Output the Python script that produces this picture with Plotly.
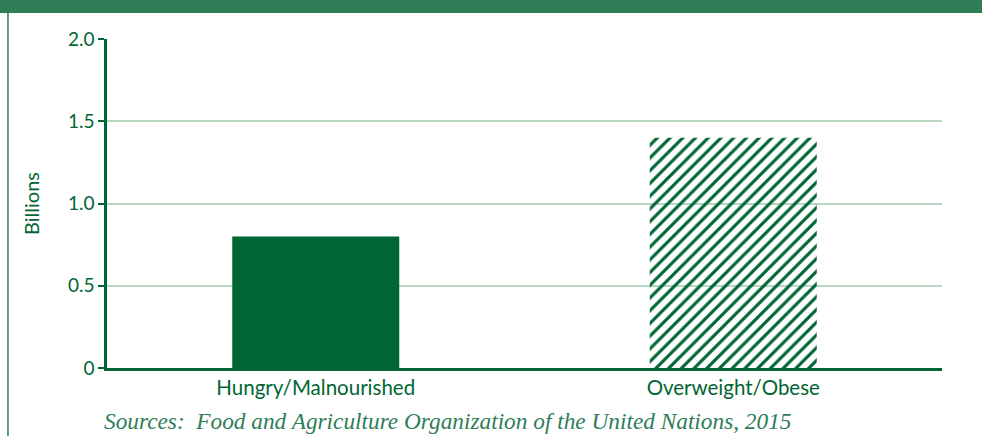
import plotly.graph_objects as go

categories = ["Hungry/Malnourished", "Overweight/Obese"]
values = [0.8, 1.4]
y_ticks = [0, 0.5, 1.0, 1.5, 2.0]
y_tick_labels = ["0", "0.5", "1.0", "1.5", "2.0"]
source_text = "Sources:  Food and Agriculture Organization of the United Nations, 2015"

DARK = "#006633"
MID = "#2e7d57"
GRID = "#b9d8c4"

fig = go.Figure()
fig.add_trace(go.Bar(
    x=categories, y=values, width=0.4,
    marker=dict(
        color=[DARK, DARK],
        line=dict(width=0),
        pattern=dict(shape=["", "/"], fgcolor=[DARK, DARK], bgcolor=["white", "white"],
                     fillmode="replace", size=9, solidity=0.35),
    ),
    showlegend=False,
))

fig.update_layout(
    width=982, height=436,
    margin=dict(l=107, r=40, t=39, b=68),
    paper_bgcolor="white", plot_bgcolor="white",
    font=dict(family="Lato, sans-serif", color=DARK),
    xaxis=dict(range=[-0.5, 1.5], showline=True, linecolor=DARK, linewidth=2.5,
               ticks="", tickfont=dict(size=20.5, color=DARK), showgrid=False),
    yaxis=dict(range=[0, 2.0], tickvals=y_ticks, ticktext=y_tick_labels,
               showline=True, linecolor=DARK, linewidth=2.5,
               ticks="outside", ticklen=6, tickwidth=2, tickcolor=DARK,
               tickfont=dict(size=19, color=DARK),
               showgrid=True, gridcolor=GRID, gridwidth=2, zeroline=False,
               title=dict(text="Billions", font=dict(size=20, color=DARK), standoff=23)),
)

# banner and left border
fig.add_shape(type="rect", xref="paper", yref="paper", x0=-0.2, x1=1.1, y0=1.079, y1=1.2,
              fillcolor=MID, line=dict(width=0), layer="above")
fig.add_shape(type="line", xref="paper", yref="paper", x0=-0.1186, x1=-0.1186, y0=-0.21, y1=1.079,
              line=dict(color=MID, width=1.5))

fig.add_annotation(text=source_text, xref="paper", yref="paper", x=-0.006, y=-0.162,
                   xanchor="left", yanchor="middle", showarrow=False,
                   font=dict(family="Liberation Serif, serif", size=23.3, color=MID, style="italic"))

fig.write_html("out.html", config={"displayModeBar": False},
               post_script="document.body.style.margin='0';")
